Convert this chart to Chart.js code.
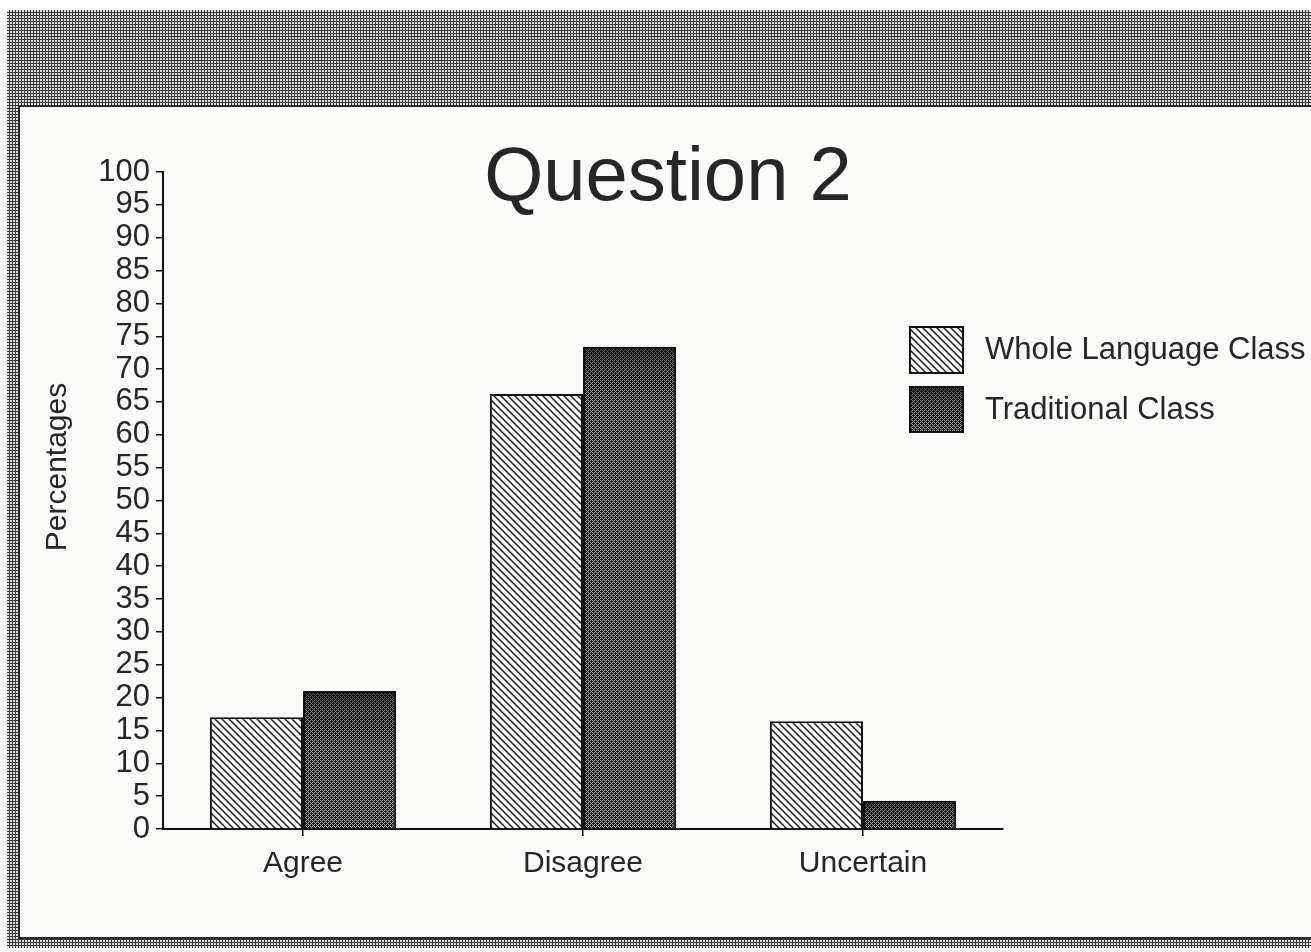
<!DOCTYPE html>
<html><head><meta charset="utf-8">
<script src="https://cdn.jsdelivr.net/npm/chart.js@4.4.0/dist/chart.umd.min.js"></script>
<style>html,body{margin:0;padding:0;background:#fff;overflow:hidden}#c{display:block}</style>
</head><body>
<canvas id="c" width="1311" height="952"></canvas>
<script>
// ---- data ----
const categories = ['Agree', 'Disagree', 'Uncertain'];
const wholeLanguage = [17.0, 66.2, 16.4];
const traditional = [21.0, 73.4, 4.3];
const seriesNames = ['Whole Language Class', 'Traditional Class'];
const yMin = 0, yMax = 100, yStep = 5;
const chartTitle = 'Question 2';
const yAxisTitle = 'Percentages';

const FONT = '"Liberation Sans", Arial, Helvetica, sans-serif';
const INK = '#262626';

// ---- patterns ----
function hatchPattern(ctx) {
  const p = 7;
  const c = document.createElement('canvas'); c.width = p; c.height = p;
  const g = c.getContext('2d');
  g.fillStyle = '#fbfbf9'; g.fillRect(0, 0, p, p);
  g.strokeStyle = '#1a1a1a'; g.lineWidth = 1.4;
  for (const o of [-p, 0, p]) { g.beginPath(); g.moveTo(o - 1, -1); g.lineTo(o + p + 1, p + 1); g.stroke(); }
  return ctx.createPattern(c, 'repeat');
}
function stipplePattern(ctx) {
  const bayer = [[0,8,2,10],[12,4,14,6],[3,11,1,9],[15,7,13,5]];
  const c = document.createElement('canvas'); c.width = 4; c.height = 4;
  const g = c.getContext('2d');
  for (let y = 0; y < 4; y++) for (let x = 0; x < 4; x++) {
    g.fillStyle = bayer[y][x] < 6 ? '#a0a0a0' : '#222222';
    g.fillRect(x, y, 1, 1);
  }
  return ctx.createPattern(c, 'repeat');
}
function framePattern(ctx) {
  const c = document.createElement('canvas'); c.width = 3; c.height = 3;
  const g = c.getContext('2d');
  g.fillStyle = '#dcdcdc'; g.fillRect(0, 0, 3, 3);
  g.fillStyle = '#3a3a3a'; g.fillRect(0, 0, 3, 1); g.fillRect(0, 0, 1, 3);
  return ctx.createPattern(c, 'repeat');
}

const canvas = document.getElementById('c');
const ctx0 = canvas.getContext('2d');
const HATCH = hatchPattern(ctx0);
const STIPPLE = stipplePattern(ctx0);
const FRAME = framePattern(ctx0);

function darkenTop(c, x, y, w, h) {
  const depth = Math.min(60, h);
  const gr = c.createLinearGradient(0, y, 0, y + depth);
  gr.addColorStop(0, 'rgba(0,0,0,0.6)');
  gr.addColorStop(0.15, 'rgba(0,0,0,0.35)');
  gr.addColorStop(1, 'rgba(0,0,0,0)');
  c.fillStyle = gr; c.fillRect(x, y, w, depth);
}

const decor = {
  id: 'decor',
  beforeDraw(chart) {
    const c = chart.ctx;
    c.save();
    c.fillStyle = '#ffffff'; c.fillRect(0, 0, 1311, 952);
    c.fillStyle = '#fbfbf9'; c.fillRect(7, 10, 1304, 938);
    c.fillStyle = FRAME;
    c.fillRect(7, 10, 1304, 97);
    c.fillRect(7, 10, 13, 938);
    c.fillRect(7, 938, 1304, 10);
    c.fillStyle = '#2a2a2a';
    c.fillRect(18, 105, 1293, 2);
    c.fillRect(18, 105, 2, 834);
    c.fillRect(18, 937, 1293, 2);
    c.restore();
  },
  afterDatasetsDraw(chart) {
    const c = chart.ctx;
    c.save();
    chart.getDatasetMeta(1).data.forEach(bar => {
      const p = bar.getProps(['x', 'y', 'base', 'width'], true);
      darkenTop(c, p.x - p.width / 2 + 1, p.y + 1, p.width - 2, p.base - p.y - 2);
    });
    c.restore();
  },
  afterDraw(chart) {
    const c = chart.ctx;
    c.save();
    c.fillStyle = INK;
    c.font = '76px ' + FONT; c.textAlign = 'center'; c.textBaseline = 'alphabetic';
    c.fillText(chartTitle, 668, 200);
    c.save();
    c.translate(66, 467); c.rotate(-Math.PI / 2);
    c.font = '30px ' + FONT; c.textAlign = 'center'; c.textBaseline = 'alphabetic';
    c.fillText(yAxisTitle, 0, 0);
    c.restore();
    const boxes = [[910, 327, 53, 46, 350], [910, 387, 53, 45, 410]];
    chart.data.datasets.forEach((ds, i) => {
      const [x, y, w, h, ty] = boxes[i];
      c.fillStyle = ds.backgroundColor; c.fillRect(x, y, w, h);
      if (i === 1) darkenTop(c, x, y, w, h);
      c.strokeStyle = '#111'; c.lineWidth = 2; c.strokeRect(x, y, w, h);
      c.fillStyle = INK; c.font = '31px ' + FONT; c.textAlign = 'left'; c.textBaseline = 'middle';
      c.fillText(ds.label, 985, ty);
    });
    c.restore();
  }
};

new Chart(canvas, {
  type: 'bar',
  data: {
    labels: categories,
    datasets: [
      { label: seriesNames[0], data: wholeLanguage, backgroundColor: HATCH, borderColor: '#111', borderWidth: 2 },
      { label: seriesNames[1], data: traditional, backgroundColor: STIPPLE, borderColor: '#111', borderWidth: 2 }
    ]
  },
  options: {
    responsive: false,
    animation: false,
    events: [],
    layout: { padding: { left: 20, top: 172, right: 308, bottom: 0 } },
    datasets: { bar: { categoryPercentage: 0.665, barPercentage: 1.0 } },
    plugins: { legend: { display: false }, title: { display: false }, tooltip: { enabled: false } },
    scales: {
      x: {
        afterFit(s) { s.height = 123; },
        grid: { display: true, offset: false, drawOnChartArea: false, drawTicks: true, tickLength: 7, color: '#111', lineWidth: 1.5 },
        border: { display: true, color: '#111', width: 2 },
        ticks: { color: INK, font: { family: FONT, size: 30 }, padding: 10, maxRotation: 0 }
      },
      y: {
        min: yMin, max: yMax,
        afterFit(s) { s.width = 143; },
        grid: { display: true, drawOnChartArea: false, drawTicks: true, tickLength: 7, color: '#111', lineWidth: 1.5 },
        border: { display: true, color: '#111', width: 2 },
        ticks: { stepSize: yStep, autoSkip: false, color: INK, font: { family: FONT, size: 31, lineHeight: 1 }, padding: 6 }
      }
    }
  },
  plugins: [decor]
});
</script>
</body></html>
